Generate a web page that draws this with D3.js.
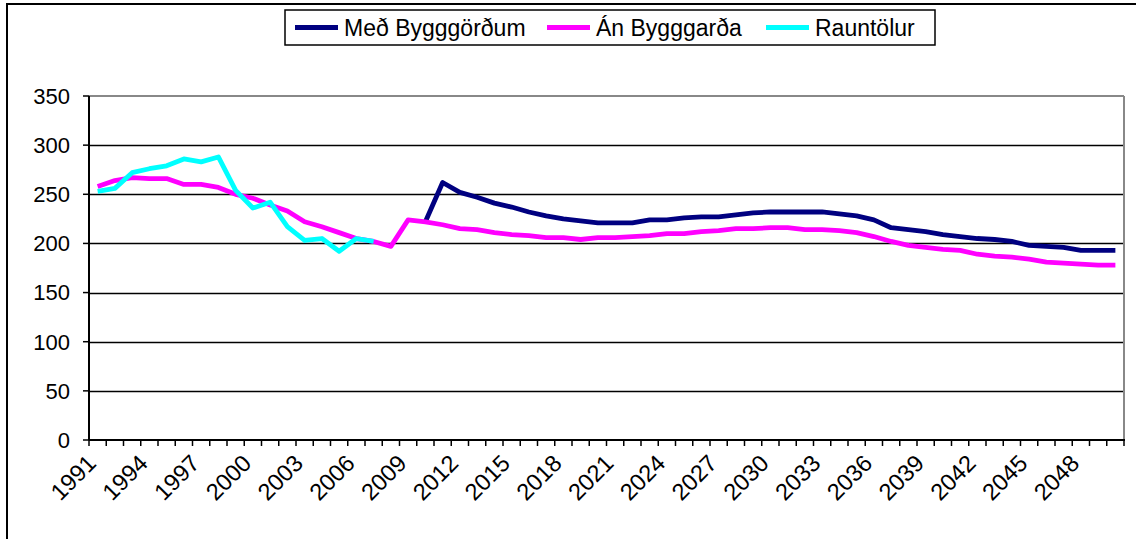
<!DOCTYPE html>
<html><head><meta charset="utf-8">
<script src="https://cdn.jsdelivr.net/npm/d3@7"></script>
<style>body{margin:0;background:#fff}svg{display:block;font-family:"Liberation Sans",Arial,sans-serif}</style>
</head><body><svg id="c" width="1136" height="539"></svg>
<script>
const years = [1991,1992,1993,1994,1995,1996,1997,1998,1999,2000,2001,2002,2003,2004,2005,2006,2007,2008,2009,2010,
  2011,2012,2013,2014,2015,2016,2017,2018,2019,2020,2021,2022,2023,2024,2025,2026,2027,2028,2029,2030,
  2031,2032,2033,2034,2035,2036,2037,2038,2039,2040,2041,2042,2043,2044,2045,2046,2047,2048,2049,2050];
const yearLabels = [1991,1994,1997,2000,2003,2006,2009,2012,2015,2018,2021,2024,2027,2030,2033,2036,2039,2042,2045,2048];
const yTicks = [0,50,100,150,200,250,300,350];
const seriesNames = ["Með Bygggörðum","Án Bygggarða","Rauntölur"];

// Með Bygggörðum, 2010-2050
const medYears = years.slice(19);
const medValues = [222,262,252,247,241,237,232,228,225,223,221,221,221,224,224,226,227,227,229,231,
  232,232,232,232,230,228,224,216,214,212,209,207,205,204,202,198,197,196,193,193,193];
// Án Bygggarða, 1991-2050
const anYears = years;
const anValues = [258,264,267,266,266,260,260,257,250,246,239,233,222,217,211,205,202,197,224,222,
  219,215,214,211,209,208,206,206,204,206,206,207,208,210,210,212,213,215,215,216,
  216,214,214,213,211,207,202,198,196,194,193,189,187,186,184,181,180,179,178,178];
// Rauntölur, 1991-2007
const realYears = years.slice(0,17);
const realValues = [253,256,272,276,279,286,283,288,254,236,242,217,203,205,192,205,202];

const colors = ["#000080","#FF00FF","#00FFFF"];

const svg = d3.select("#c");
const L = 89, R = 1124, T = 96, B = 440;
const x = d3.scaleBand().domain(years).range([L,R]).paddingInner(0).paddingOuter(0);
const y = d3.scaleLinear().domain([0,350]).range([B,T]);
const cx = d => x(d) + x.bandwidth()/2;

// outer frame
svg.append("rect").attr("x",7).attr("y",4).attr("width",1200).attr("height",600)
  .attr("fill","none").attr("stroke","#000").attr("stroke-width",2);

// gridlines
svg.append("g").selectAll("line").data(yTicks.filter(v=>v>0&&v<350)).join("line")
  .attr("x1",L).attr("x2",R).attr("y1",d=>Math.round(y(d))+0.5).attr("y2",d=>Math.round(y(d))+0.5)
  .attr("stroke","#000").attr("stroke-width",1.3);
// plot border top & right (gray)
svg.append("line").attr("x1",L).attr("x2",R).attr("y1",y(350)).attr("y2",y(350)).attr("stroke","#888").attr("stroke-width",2);
svg.append("line").attr("x1",R).attr("x2",R).attr("y1",T).attr("y2",B).attr("stroke","#888").attr("stroke-width",2);

// y axis
const yAxis = svg.append("g");
yAxis.append("line").attr("x1",L).attr("x2",L).attr("y1",T).attr("y2",B).attr("stroke","#000").attr("stroke-width",2);
yAxis.selectAll(".t").data(yTicks).join("line").attr("class","t")
  .attr("x1",L-6).attr("x2",L).attr("y1",d=>y(d)).attr("y2",d=>y(d)).attr("stroke","#000").attr("stroke-width",1.5);
yAxis.selectAll("text").data(yTicks).join("text")
  .attr("x",70).attr("y",d=>y(d)).attr("dy","0.36em").attr("text-anchor","end")
  .attr("font-size",22).attr("fill","#000").text(d=>d);

// x axis
const xAxis = svg.append("g");
xAxis.append("line").attr("x1",L).attr("x2",R+1).attr("y1",B).attr("y2",B).attr("stroke","#000").attr("stroke-width",2);
const boundaries = years.map(d=>x(d)).concat([R]);
xAxis.selectAll(".t").data(boundaries).join("line").attr("class","t")
  .attr("x1",d=>d).attr("x2",d=>d).attr("y1",B).attr("y2",B+6).attr("stroke","#000").attr("stroke-width",1.5);
xAxis.selectAll("text").data(yearLabels).join("text")
  .attr("transform",d=>`translate(${cx(d)-6},${B+19}) rotate(-45)`)
  .attr("text-anchor","end").attr("dy","0.35em").attr("font-size",23.5).attr("fill","#000").text(d=>d);

// lines
const line = d3.line().x(d=>cx(d[0])).y(d=>y(d[1])).curve(d3.curveLinear);
const series = [
  {yrs:medYears, vals:medValues},
  {yrs:anYears, vals:anValues},
  {yrs:realYears, vals:realValues}
];
series.forEach((s,i)=>{
  svg.append("path").datum(s.yrs.map((yr,j)=>[yr,s.vals[j]]))
    .attr("d",line).attr("fill","none").attr("stroke",colors[i]).attr("stroke-width",4.8)
    .attr("stroke-linejoin","round");
});

// legend
const lg = svg.append("g");
lg.append("rect").attr("x",285).attr("y",10).attr("width",650).attr("height",35)
  .attr("fill","#fff").attr("stroke","#000").attr("stroke-width",1.5);
const legX = [295,547,766];
seriesNames.forEach((n,i)=>{
  lg.append("line").attr("x1",legX[i]).attr("x2",legX[i]+43).attr("y1",27.5).attr("y2",27.5)
    .attr("stroke",colors[i]).attr("stroke-width",5);
  lg.append("text").attr("x",legX[i]+49).attr("y",27.5).attr("dy","0.36em")
    .attr("font-size",23).attr("fill","#000").text(n);
});
</script></body></html>
